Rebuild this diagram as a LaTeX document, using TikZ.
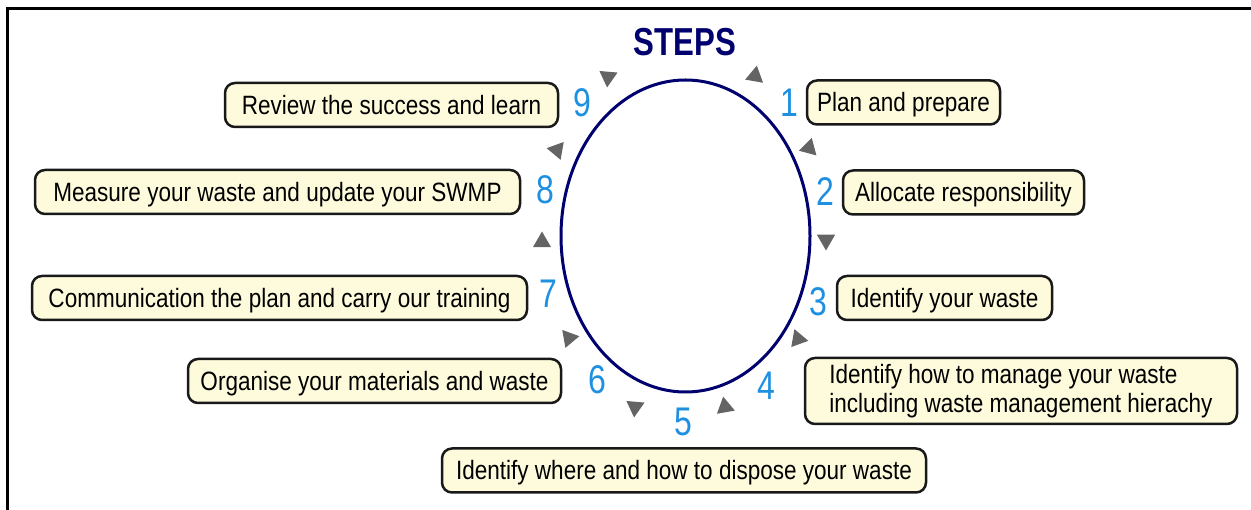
\documentclass[tikz,border=0pt]{standalone}
\usepackage{fontspec}
\setmainfont{Liberation Sans}[FakeStretch=0.85]
\newfontfamily\stepsfont{Liberation Sans}[FakeStretch=0.8]
\usetikzlibrary{shapes.geometric}
\definecolor{navyline}{RGB}{0,0,110}
\definecolor{numblue}{RGB}{30,144,225}
\definecolor{boxfill}{RGB}{253,251,220}
\definecolor{trigray}{RGB}{100,100,100}
\tikzset{
  stepbox/.style={draw=black!90, line width=2.5pt, rounded corners=10pt, fill=boxfill,
    minimum height=44pt, inner xsep=0pt, inner ysep=0pt,
    font=\fontsize{26.5}{29}\selectfont, text=black},
  oneline/.style={text height=19pt, text depth=0pt},
  num/.style={text=numblue, font=\stepsfont\fontsize{40}{42}\selectfont, inner sep=0pt},
  tri/.style={regular polygon, regular polygon sides=3, fill=trigray, minimum size=21pt, inner sep=0pt},
}
\begin{document}
\begin{tikzpicture}[x=1pt,y=-1pt]
\useasboundingbox (0,0) rectangle (1251,510);
\draw[line width=3pt, black] (7,510) coordinate (fa) -- (7,9) coordinate (fb) -- (1251,9) coordinate (fc);
\node[ellipse, draw=navyline, line width=3pt, minimum width=249pt, minimum height=312pt, inner sep=0pt] (ell) at (685.5,236) {};
\node[text=navyline, font=\stepsfont\bfseries\fontsize{39}{42}\selectfont, inner sep=0pt] (title) at (685,42) {STEPS};
% boxes
\node[stepbox, oneline, minimum width=193pt] (b1) at (903.5,102.5) {Plan and prepare};
\node[stepbox, oneline, minimum width=241pt] (b2) at (963.5,192.5) {Allocate responsibility};
\node[stepbox, oneline, minimum width=215pt] (b3) at (944.5,298) {Identify your waste};
\node[stepbox, minimum width=432pt, minimum height=66pt, align=left] (b4) at (1021,391) {Identify how to manage your waste\\including waste management hierachy};
\node[stepbox, oneline, minimum width=484pt] (b5) at (684,470.5) {Identify where and how to dispose your waste};
\node[stepbox, oneline, minimum width=373pt] (b6) at (374.5,381) {Organise your materials and waste};
\node[stepbox, oneline, minimum width=495pt] (b7) at (279.5,298) {Communication the plan and carry our training};
\node[stepbox, oneline, minimum width=485pt] (b8) at (277.5,192) {Measure your waste and update your SWMP};
\node[stepbox, oneline, minimum width=333pt] (b9) at (391.5,105) {Review the success and learn};
% numbers
\node[num] (n1) at (789,103) {1};
\node[num] (n2) at (825,192) {2};
\node[num] (n3) at (818,302) {3};
\node[num] (n4) at (766,386) {4};
\node[num] (n5) at (683,422) {5};
\node[num] (n6) at (597,380) {6};
\node[num] (n7) at (548,294) {7};
\node[num] (n8) at (545,190) {8};
\node[num] (n9) at (582,103) {9};
% triangles
\node[tri, shape border rotate=-10] (t1) at (755,76) {};
\node[tri, shape border rotate=105] (t2) at (809,148) {};
\node[tri, shape border rotate=180] (t3) at (826,240) {};
\node[tri, shape border rotate=-100] (t4) at (798,339) {};
\node[tri, shape border rotate=10] (t5) at (725,407) {};
\node[tri, shape border rotate=175] (t6) at (635,407) {};
\node[tri, shape border rotate=-80] (t7) at (569,338) {};
\node[tri, shape border rotate=0] (t8) at (542,242) {};
\node[tri, shape border rotate=80] (t9) at (557,150) {};
\node[tri, shape border rotate=175] (t10) at (608,77) {};
\end{tikzpicture}
\end{document}
